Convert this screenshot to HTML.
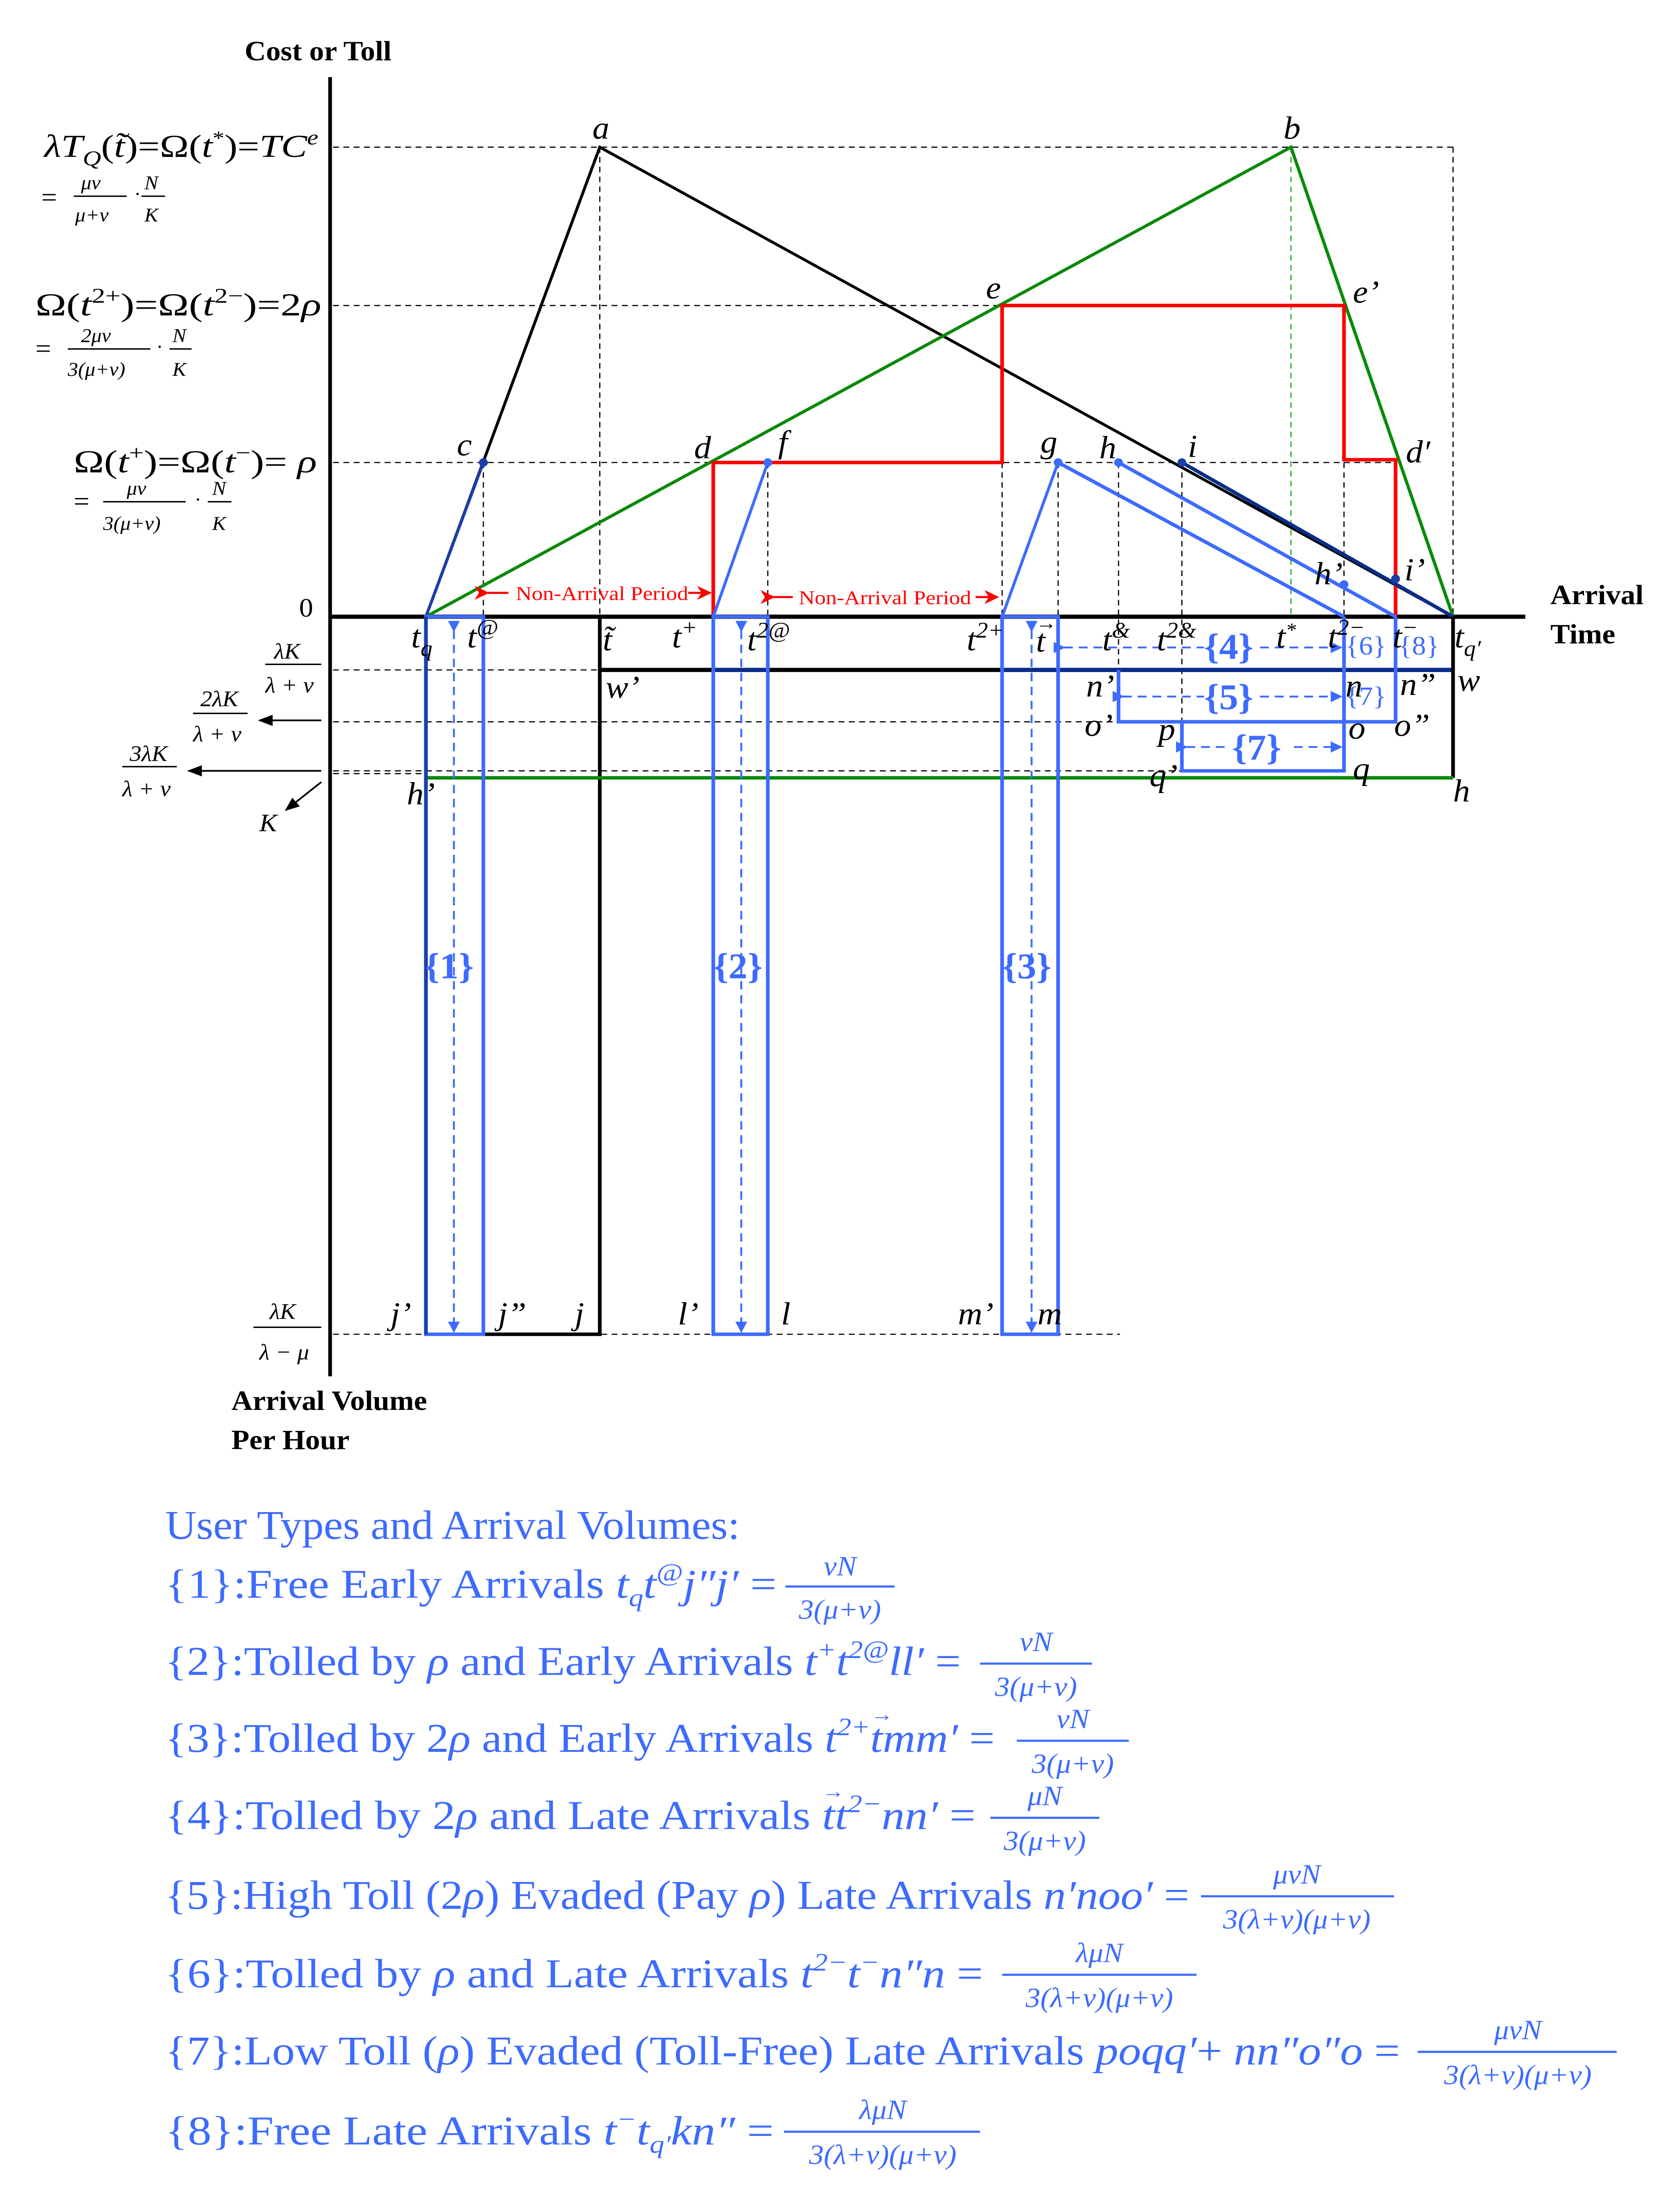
<!DOCTYPE html>
<html><head><meta charset="utf-8"><style>
html,body{margin:0;padding:0;background:#fff;overflow:hidden}
svg{display:block;position:fixed;left:0;top:0;width:100%;height:100%}
text{font-family:"Liberation Serif",serif}
.lb{font-style:italic;font-size:23px}
</style></head><body>
<svg viewBox="0 0 1140 1564" preserveAspectRatio="none" xmlns="http://www.w3.org/2000/svg">
<defs>
<marker id="ab" markerWidth="8" markerHeight="8" refX="7" refY="4" orient="auto" markerUnits="userSpaceOnUse"><path d="M0,0 L8,4 L0,8 z" fill="#3d6bff"/></marker>
<marker id="ak" markerWidth="10" markerHeight="8" refX="9" refY="4" orient="auto" markerUnits="userSpaceOnUse"><path d="M0,0 L10,4 L0,8 z" fill="#000"/></marker>
<marker id="ar" markerWidth="10" markerHeight="10" refX="9" refY="5" orient="auto" markerUnits="userSpaceOnUse"><path d="M0,0 L10,5 L0,10 L3,5 z" fill="#f00"/></marker>
</defs>
<g stroke="#000" stroke-width="0.8" stroke-dasharray="4,3" fill="none">
<line x1="226" y1="105" x2="986" y2="105"/>
<line x1="226" y1="218" x2="912" y2="218"/>
<line x1="226" y1="330" x2="947" y2="330"/>
<line x1="986" y1="105" x2="986" y2="440"/>
<line x1="407" y1="105" x2="407" y2="440"/>
<line x1="328" y1="330" x2="328" y2="440"/>
<line x1="521" y1="330" x2="521" y2="440"/>
<line x1="680" y1="218" x2="680" y2="440"/>
<line x1="718" y1="330" x2="718" y2="440"/>
<line x1="759" y1="330" x2="759" y2="478"/>
<line x1="802" y1="330" x2="802" y2="515"/>
<line x1="912" y1="218" x2="912" y2="440"/>
<line x1="947" y1="330" x2="947" y2="440"/>
<line x1="226" y1="478" x2="407" y2="478"/>
<line x1="226" y1="515" x2="759" y2="515"/>
<line x1="226" y1="550" x2="802" y2="550"/>
<line x1="226" y1="552" x2="289" y2="552"/>
<line x1="226" y1="952" x2="760" y2="952"/>
</g>
<line x1="876" y1="105" x2="876" y2="440" stroke="#2a2" stroke-width="0.8" stroke-dasharray="4,3"/>
<line x1="224" y1="55" x2="224" y2="982" stroke="#000" stroke-width="2.5"/>
<line x1="224" y1="440" x2="1035" y2="440" stroke="#000" stroke-width="3"/>
<polyline points="289,440 407,105 986,440" fill="none" stroke="#000" stroke-width="2"/>
<polyline points="289,440 876,105 986,440" fill="none" stroke="#0a8a0a" stroke-width="2.2"/>
<polyline points="484,440 484,330 680,330 680,218 912,218 912,328 947,328 947,440" fill="none" stroke="#f00" stroke-width="2.5"/>
<line x1="289" y1="440" x2="328" y2="330" stroke="#1a3fa8" stroke-width="2"/>
<line x1="484" y1="440" x2="521" y2="330" stroke="#3d6bff" stroke-width="2"/>
<line x1="680" y1="440" x2="718" y2="330" stroke="#3d6bff" stroke-width="2"/>
<line x1="718" y1="330" x2="912" y2="440" stroke="#3d6bff" stroke-width="2.5"/>
<line x1="759" y1="330" x2="947" y2="440" stroke="#3d6bff" stroke-width="2.5"/>
<line x1="802" y1="330" x2="986" y2="440" stroke="#0a2d8a" stroke-width="2.5"/>
<g fill="#1a3fa8"><circle cx="328" cy="330" r="3"/><circle cx="802" cy="330" r="3"/><circle cx="947" cy="413" r="3"/></g>
<g fill="#3d6bff"><circle cx="521" cy="330" r="3"/><circle cx="718" cy="330" r="3"/><circle cx="759" cy="330" r="3"/><circle cx="912" cy="417" r="3"/></g>
<polyline points="328,952 407,952 407,440" fill="none" stroke="#000" stroke-width="2.5"/>
<line x1="407" y1="478" x2="986" y2="478" stroke="#000" stroke-width="3"/>
<g stroke="#0a2d8a" stroke-width="3"><line x1="484" y1="478" x2="521" y2="478"/><line x1="680" y1="478" x2="986" y2="478"/></g>
<line x1="986" y1="440" x2="986" y2="555" stroke="#000" stroke-width="2.5"/>
<line x1="289" y1="555" x2="986" y2="555" stroke="#0a8a0a" stroke-width="2.5"/>
<g fill="none" stroke="#3d6bff" stroke-width="2.5">
<rect x="289" y="440" width="39" height="512"/>
<rect x="484" y="440" width="37" height="512"/>
<rect x="680" y="440" width="38" height="512"/>
<polyline points="759,478 759,515 947,515 947,440"/>
<polyline points="802,515 802,550 912,550 912,440"/>
</g>
<line x1="289" y1="440" x2="289" y2="952" stroke="#1a3fa8" stroke-width="2.5"/>
<g stroke="#3d6bff" stroke-width="1.3" stroke-dasharray="6,4" fill="none">
<line x1="308" y1="450" x2="308" y2="950" marker-start="url(#ab)" marker-end="url(#ab)"/>
<line x1="503" y1="450" x2="503" y2="950" marker-start="url(#ab)" marker-end="url(#ab)"/>
<line x1="700" y1="450" x2="700" y2="950" marker-start="url(#ab)" marker-end="url(#ab)"/>
<line x1="722" y1="462" x2="817" y2="462" marker-start="url(#ab)"/>
<line x1="855" y1="462" x2="910" y2="462" marker-end="url(#ab)"/>
<line x1="762" y1="497" x2="817" y2="497" marker-start="url(#ab)"/>
<line x1="855" y1="497" x2="910" y2="497" marker-end="url(#ab)"/>
<line x1="805" y1="533" x2="835" y2="533" marker-start="url(#ab)"/>
<line x1="878" y1="533" x2="910" y2="533" marker-end="url(#ab)"/>
</g>
<g stroke="#f00" stroke-width="1.5"><line x1="331" y1="423" x2="345" y2="423" marker-start="url(#ar)"/><line x1="467" y1="423" x2="482" y2="423" marker-end="url(#ar)"/>
<line x1="525" y1="426" x2="538" y2="426" marker-start="url(#ar)"/><line x1="662" y1="426" x2="677" y2="426" marker-end="url(#ar)"/></g>
<text x="350" y="428" font-size="14" fill="#f00" textLength="117" lengthAdjust="spacingAndGlyphs">Non-Arrival Period</text>
<text x="542" y="431" font-size="14" fill="#f00" textLength="117" lengthAdjust="spacingAndGlyphs">Non-Arrival Period</text>
<g stroke="#000" stroke-width="1.2"><line x1="218" y1="514" x2="176" y2="514" marker-end="url(#ak)"/><line x1="218" y1="550" x2="128" y2="550" marker-end="url(#ak)"/><line x1="218" y1="558" x2="194" y2="578" marker-end="url(#ak)"/></g>
<g class="lb">
<text x="402" y="99">a</text><text x="871" y="99">b</text><text x="310" y="325">c</text><text x="471" y="327">d</text><text x="669" y="213">e</text><text x="918" y="216">e’</text><text x="528" y="323">f</text><text x="706" y="323">g</text><text x="746" y="327">h</text><text x="806" y="326">i</text><text x="954" y="330">d′</text><text x="892" y="417">h’</text><text x="953" y="414">i’</text>
<text x="279" y="462">t<tspan font-size="16" dy="6">q</tspan></text><text x="317" y="462">t<tspan font-size="16" dy="-9">@</tspan></text><text x="409" y="464">t̃</text><text x="456" y="462">t<tspan font-size="16" dy="-9">+</tspan></text><text x="507" y="464">t<tspan font-size="16" dy="-9">2@</tspan></text><text x="656" y="464">t<tspan font-size="16" dy="-9">2+</tspan></text>
<text x="703" y="465">t</text><text x="703" y="449" font-size="14" font-style="normal">→</text>
<text x="748" y="464">t<tspan font-size="16" dy="-9">&amp;</tspan></text><text x="785" y="464">t<tspan font-size="16" dy="-9">2&amp;</tspan></text><text x="866" y="462">t<tspan font-size="14" dy="-8">*</tspan></text><text x="901" y="462">t<tspan font-size="16" dy="-9">2−</tspan></text><text x="945" y="462">t<tspan font-size="16" dy="-9">−</tspan></text><text x="987" y="462">t<tspan font-size="16" dy="6">q′</tspan></text>
<text x="411" y="498">w’</text><text x="989" y="493">w</text><text x="737" y="497">n’</text><text x="913" y="497">n</text><text x="950" y="496">n”</text><text x="736" y="525">o’</text><text x="915" y="527">o</text><text x="946" y="525">o”</text><text x="786" y="528">p</text><text x="780" y="561">q’</text><text x="918" y="556">q</text><text x="986" y="572">h</text><text x="276" y="574">h’</text>
<text x="265" y="945">j’</text><text x="338" y="945">j”</text><text x="390" y="945">j</text><text x="460" y="945">l’</text><text x="530" y="945">l</text><text x="650" y="945">m’</text><text x="704" y="945">m</text>
<text x="176" y="593" font-size="18">K</text>
</g>
<g font-weight="bold" font-size="26" fill="#3d6bff">
<text x="288" y="698">{1}</text><text x="484" y="698">{2}</text><text x="680" y="698">{3}</text>
<text x="817" y="470">{4}</text><text x="817" y="506">{5}</text><text x="836" y="542">{7}</text>
<text x="913" y="467" font-size="19" font-weight="normal">{6}</text><text x="949" y="467" font-size="19" font-weight="normal">{8}</text><text x="913" y="503" font-size="19" font-weight="normal">{7}</text>
</g>
<g font-weight="bold" font-size="20"><text x="166" y="43">Cost or Toll</text><text x="1052" y="431">Arrival</text><text x="1052" y="459">Time</text><text x="157" y="1006">Arrival  Volume</text><text x="157" y="1034">Per Hour</text></g>
<text x="203" y="440" font-size="19">0</text>
<g font-size="23">
<text x="30" y="112" textLength="186" lengthAdjust="spacingAndGlyphs"><tspan font-style="italic">λT</tspan><tspan font-size="15" dy="6" font-style="italic">Q</tspan><tspan dy="-6">(</tspan><tspan font-style="italic">t̃</tspan><tspan>)=Ω(</tspan><tspan font-style="italic">t</tspan><tspan font-size="14" dy="-9">*</tspan><tspan dy="9">)=</tspan><tspan font-style="italic">TC</tspan><tspan font-size="15" dy="-9" font-style="italic">e</tspan></text>
<text x="24" y="225" textLength="194" lengthAdjust="spacingAndGlyphs">Ω(<tspan font-style="italic">t</tspan><tspan font-size="15" dy="-9">2+</tspan><tspan dy="9">)=Ω(</tspan><tspan font-style="italic">t</tspan><tspan font-size="15" dy="-9">2−</tspan><tspan dy="9">)=2</tspan><tspan font-style="italic">ρ</tspan></text>
<text x="50" y="337" textLength="165" lengthAdjust="spacingAndGlyphs">Ω(<tspan font-style="italic">t</tspan><tspan font-size="15" dy="-9">+</tspan><tspan dy="9">)=Ω(</tspan><tspan font-style="italic">t</tspan><tspan font-size="15" dy="-9">−</tspan><tspan dy="9">)= </tspan><tspan font-style="italic">ρ</tspan></text>
</g>
<g font-size="14" font-style="italic">
<text x="28" y="147" font-size="19" font-style="normal">=</text><text x="55" y="135">μν</text><line x1="50" y1="140" x2="86" y2="140" stroke="#000"/><text x="51" y="158">μ+ν</text><text x="91" y="143" font-style="normal">·</text><text x="98" y="135">N</text><line x1="96" y1="140" x2="112" y2="140" stroke="#000"/><text x="98" y="158">K</text>
<text x="24" y="255" font-size="19" font-style="normal">=</text><text x="55" y="244">2μν</text><line x1="46" y1="249" x2="102" y2="249" stroke="#000"/><text x="46" y="268">3(μ+ν)</text><text x="106" y="252" font-style="normal">·</text><text x="117" y="244">N</text><line x1="115" y1="249" x2="130" y2="249" stroke="#000"/><text x="117" y="268">K</text>
<text x="50" y="364" font-size="19" font-style="normal">=</text><text x="86" y="353">μν</text><line x1="70" y1="358" x2="126" y2="358" stroke="#000"/><text x="70" y="378">3(μ+ν)</text><text x="132" y="361" font-style="normal">·</text><text x="144" y="353">N</text><line x1="141" y1="358" x2="157" y2="358" stroke="#000"/><text x="144" y="378">K</text>
</g>
<g font-style="italic" font-size="16">
<text x="186" y="470">λK</text><line x1="180" y1="474" x2="218" y2="474" stroke="#000"/><text x="180" y="494">λ + ν</text>
<text x="136" y="504">2λK</text><line x1="131" y1="509" x2="168" y2="509" stroke="#000"/><text x="131" y="529">λ + ν</text>
<text x="88" y="543">3λK</text><line x1="83" y1="547" x2="120" y2="547" stroke="#000"/><text x="83" y="568">λ + ν</text>
<text x="183" y="941">λK</text><line x1="172" y1="947" x2="218" y2="947" stroke="#000"/><text x="176" y="970">λ − μ</text>
</g>
<g fill="#3d6bff" font-size="29">
<text x="112" y="1098" textLength="390" lengthAdjust="spacingAndGlyphs">User Types and Arrival Volumes:</text>
<text x="112" y="1140" textLength="415" lengthAdjust="spacingAndGlyphs">{1}:Free Early Arrivals <tspan font-style="italic">t<tspan font-size="18" dy="6">q</tspan><tspan dy="-6">t</tspan><tspan font-size="18" dy="-12">@</tspan><tspan dy="12">j″j′</tspan></tspan> =</text>
<text x="112" y="1195" textLength="540" lengthAdjust="spacingAndGlyphs">{2}:Tolled by <tspan font-style="italic">ρ</tspan> and Early Arrivals <tspan font-style="italic">t<tspan font-size="18" dy="-12">+</tspan><tspan dy="12">t</tspan><tspan font-size="18" dy="-12">2@</tspan><tspan dy="12">ll′</tspan></tspan> =</text>
<text x="112" y="1250" textLength="563" lengthAdjust="spacingAndGlyphs">{3}:Tolled by 2<tspan font-style="italic">ρ</tspan> and Early Arrivals <tspan font-style="italic">t<tspan font-size="18" dy="-12">2+</tspan><tspan dy="12">tmm′</tspan></tspan> =</text>
<text x="112" y="1305" textLength="550" lengthAdjust="spacingAndGlyphs">{4}:Tolled by 2<tspan font-style="italic">ρ</tspan> and Late Arrivals <tspan font-style="italic">tt<tspan font-size="18" dy="-12">2−</tspan><tspan dy="12">nn′</tspan></tspan> =</text>
<text x="112" y="1362" textLength="695" lengthAdjust="spacingAndGlyphs">{5}:High Toll (2<tspan font-style="italic">ρ</tspan>) Evaded (Pay <tspan font-style="italic">ρ</tspan>) Late Arrivals <tspan font-style="italic">n′noo′</tspan> =</text>
<text x="112" y="1418" textLength="555" lengthAdjust="spacingAndGlyphs">{6}:Tolled by <tspan font-style="italic">ρ</tspan> and Late Arrivals <tspan font-style="italic">t<tspan font-size="18" dy="-12">2−</tspan><tspan dy="12">t</tspan><tspan font-size="18" dy="-12">−</tspan><tspan dy="12">n″n</tspan></tspan> =</text>
<text x="112" y="1473" textLength="838" lengthAdjust="spacingAndGlyphs">{7}:Low Toll (<tspan font-style="italic">ρ</tspan>) Evaded (Toll-Free) Late Arrivals <tspan font-style="italic">poqq′</tspan>+ <tspan font-style="italic">nn″o″o</tspan> =</text>
<text x="112" y="1530" textLength="413" lengthAdjust="spacingAndGlyphs">{8}:Free Late Arrivals <tspan font-style="italic">t<tspan font-size="18" dy="-12">−</tspan><tspan dy="12">t</tspan><tspan font-size="18" dy="6">q′</tspan><tspan dy="-6">kn″</tspan></tspan> =</text>
</g>
<g fill="#3d6bff" font-size="15">
<text x="591" y="1228">→</text><text x="558" y="1283">→</text>
</g>
<g fill="#3d6bff" font-size="20" font-style="italic" text-anchor="middle">
<text x="570" y="1124">νN</text><text x="570" y="1155">3(μ+ν)</text>
<text x="703" y="1178">νN</text><text x="703" y="1210">3(μ+ν)</text>
<text x="728" y="1233">νN</text><text x="728" y="1265">3(μ+ν)</text>
<text x="709" y="1288">μN</text><text x="709" y="1320">3(μ+ν)</text>
<text x="880" y="1344">μνN</text><text x="880" y="1376">3(λ+ν)(μ+ν)</text>
<text x="746" y="1400">λμN</text><text x="746" y="1432">3(λ+ν)(μ+ν)</text>
<text x="1030" y="1455">μνN</text><text x="1030" y="1487">3(λ+ν)(μ+ν)</text>
<text x="599" y="1512">λμN</text><text x="599" y="1544">3(λ+ν)(μ+ν)</text>
</g>
<g stroke="#3d6bff" stroke-width="1.5">
<line x1="533" y1="1132" x2="607" y2="1132"/><line x1="665" y1="1187" x2="741" y2="1187"/><line x1="690" y1="1242" x2="766" y2="1242"/><line x1="672" y1="1297" x2="746" y2="1297"/>
<line x1="815" y1="1353" x2="946" y2="1353"/><line x1="680" y1="1409" x2="812" y2="1409"/><line x1="962" y1="1464" x2="1097" y2="1464"/><line x1="532" y1="1521" x2="665" y2="1521"/>
</g>
</svg>
</body></html>
